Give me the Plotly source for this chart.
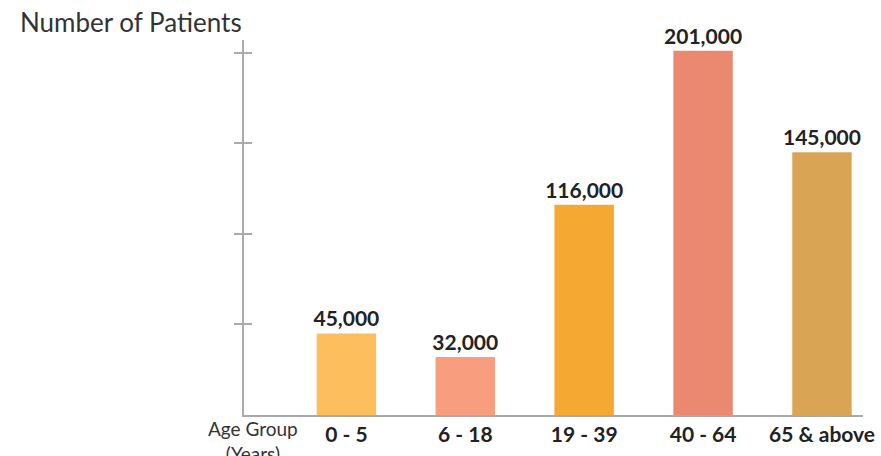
import plotly.graph_objects as go

categories = ["0 - 5", "6 - 18", "19 - 39", "40 - 64", "65 & above"]
patients = [45000, 32000, 116000, 201000, 145000]
bar_colors = ["#FDBF5E", "#F89E7F", "#F5A832", "#EB8970", "#D9A554"]
y_ticks = [50000, 100000, 150000, 200000]

xpos = list(range(len(categories)))
XR = [-0.861, 4.345]
YR = [0, 207000]

fig = go.Figure()
fig.add_trace(go.Bar(
    x=xpos, y=patients, marker=dict(color=bar_colors, line=dict(width=0)),
    width=0.5,
    text=[f"{v:,}" for v in patients], textposition="outside", constraintext="none",
    textfont=dict(family="Lato", size=21, color="#222222", weight="bold"),
    cliponaxis=False, hoverinfo="skip",
))
fig.add_trace(go.Scatter(x=[None], y=[None], xaxis="x2", yaxis="y2", showlegend=False))

fig.update_layout(
    width=881, height=456,
    margin=dict(l=244, r=18, t=40, b=41, autoexpand=False),
    plot_bgcolor="white", paper_bgcolor="white",
    showlegend=False,
    font=dict(family="Lato", color="#333333"),
    xaxis=dict(range=XR, tickvals=xpos, ticktext=categories, showgrid=False, zeroline=False,
               showline=True, linecolor="#AAAAAA", linewidth=1.5, ticks="", automargin=False,
               tickfont=dict(family="Lato", size=21, color="#222222", weight="bold")),
    yaxis=dict(range=YR, tickvals=y_ticks, showticklabels=False, showgrid=False, zeroline=False,
               showline=True, linecolor="#AAAAAA", linewidth=1.5, ticks="outside", automargin=False,
               ticklen=8, tickcolor="#AAAAAA", tickwidth=1.5),
    xaxis2=dict(range=XR, overlaying="x", tickvals=[4.345], showticklabels=False, ticks="inside",
                ticklen=5, tickcolor="#AAAAAA", tickwidth=1.5, showgrid=False, zeroline=False,
                automargin=False),
    yaxis2=dict(range=YR, overlaying="y", tickvals=y_ticks, showticklabels=False, ticks="inside",
                ticklen=8, tickcolor="#AAAAAA", tickwidth=1.5, showgrid=False, zeroline=False,
                automargin=False),
    annotations=[
        dict(text="Number of Patients", xref="paper", yref="paper", x=(18-244)/619, y=(415-22)/375,
             xanchor="left", yanchor="middle", showarrow=False,
             font=dict(family="Lato", size=26, color="#333333")),
        dict(text="Age Group<br>(Years)", xref="paper", yref="paper", x=(253-244)/619, y=(415-441)/375,
             xanchor="center", yanchor="middle", showarrow=False, align="center",
             font=dict(family="Lato", size=19, color="#333333")),
    ],
)
fig.write_html("out.html")
